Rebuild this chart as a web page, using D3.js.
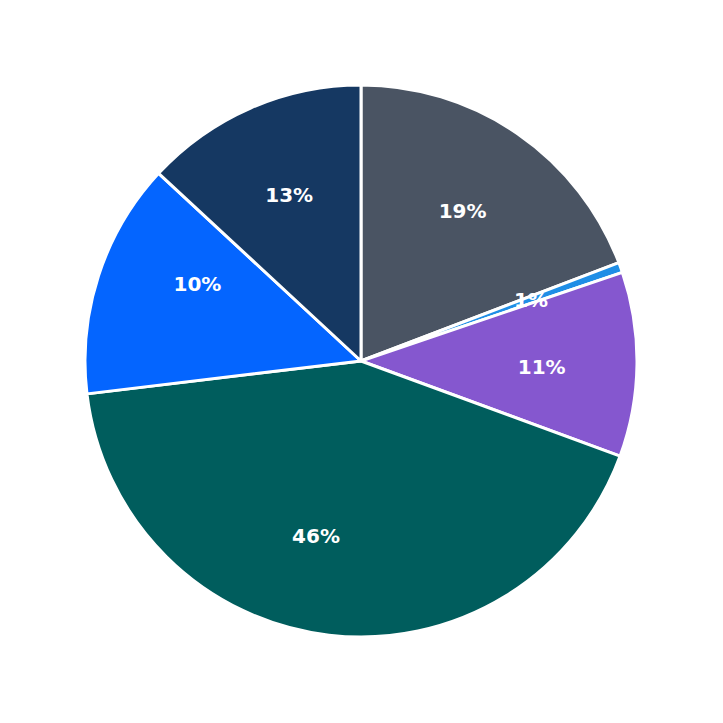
<!DOCTYPE html>
<html><head><meta charset="utf-8">
<script src="https://cdn.jsdelivr.net/npm/d3@7"></script>
<style>body{margin:0;background:#fff}</style>
</head><body>
<svg id="chart" width="723" height="723"></svg>
<script>
// slice sizes as drawn (degrees share of the circle)
const sliceValues = [19.2, 0.6, 10.8, 42.5, 13.8, 13.1];
// percentages printed on the slices
const labelValues = [19, 1, 11, 46, 10, 13];
const colors = ["#4a5463", "#1f8ee6", "#8557cf", "#005d5d", "#0465ff", "#153862"];

const svg = d3.select("#chart");
const g = svg.append("g").attr("transform", "translate(361,361)");
const radius = 276;

const pie = d3.pie().sort(null).value(d => d);
const arc = d3.arc().innerRadius(0).outerRadius(radius);
const labelArc = d3.arc().innerRadius(radius * 0.655).outerRadius(radius * 0.655);

g.selectAll("path")
    .data(pie(sliceValues))
    .enter().append("path")
    .attr("d", arc)
    .attr("fill", (d, i) => colors[i])
    .attr("stroke", "#fff")
    .attr("stroke-width", 3)
    .attr("stroke-linejoin", "round");

g.selectAll("text")
    .data(pie(labelValues))
    .enter().append("text")
    .attr("transform", d => `translate(${labelArc.centroid(d)})`)
    .attr("dy", "0.35em")
    .attr("text-anchor", "middle")
    .attr("fill", "#fff")
    .style("font-family", "DejaVu Sans")
    .style("font-weight", "bold")
    .style("font-size", "20px")
    .text(d => d.data + "%");
</script>
</body></html>
